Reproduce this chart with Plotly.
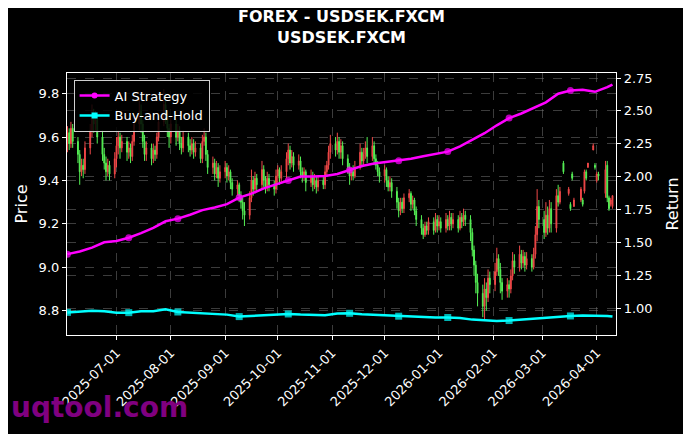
import pandas as pd
import plotly.graph_objects as go

# business days shown on the chart
days = pd.bdate_range("2025-06-03", "2026-04-10")

# daily OHLC of USDSEK (None = no candle that day)
opens = (
    [9.58, 9.62, 9.57, 9.64, 9.58, 9.52, 9.44, 9.47, 9.45, 9.55, 9.63, 9.70, 9.66, 9.68, 9.60, 9.52, 9.48, 9.44, 9.47, 9.43]
    + [9.50, 9.56, 9.60, 9.55, 9.58, 9.53, 9.55, 9.51, 9.58, 9.66, 9.72, 9.66, 9.58, 9.52, 9.55, 9.50, 9.54, 9.52, 9.60, 9.67, 9.75, 9.70, 9.64]
    + [9.60, 9.66, 9.60, 9.63, 9.57, 9.55, 9.60, 9.56, 9.54, 9.57, 9.53, 9.55, 9.50, 9.58, 9.60, 9.52, 9.46, 9.48, 9.43, 9.46, 9.41]
    + [9.44, 9.46, 9.42, 9.44, 9.39, 9.36, 9.38, 9.33, 9.30, 9.26, 9.24, 9.32, 9.40, 9.36, 9.41, 9.38, 9.45, 9.40, 9.37, 9.41, 9.38, 9.36]
    + [9.42, 9.45, 9.41, 9.44, 9.50, 9.54, 9.48, 9.51, 9.47, 9.49, 9.44, 9.42, 9.44, 9.39, 9.42, 9.38, 9.40, 9.37, 9.40, 9.38, 9.44, 9.47, 9.53]
    + [9.57, 9.54, 9.58, 9.53, 9.56, 9.50, 9.46, 9.42, 9.44, 9.42, 9.46, 9.53, 9.49, 9.52, 9.55, 9.51, 9.56, 9.50, 9.47, 9.44]
    + [9.42, 9.45, 9.40, 9.37, 9.39, 9.35, 9.30, 9.26, 9.30, 9.27, 9.32, 9.34, 9.29, 9.31, 9.26, 9.22, 9.18, 9.15, 9.19, 9.17, 9.21, 9.17, 9.22]
    + [9.19, 9.21, 9.18, 9.22, 9.19, 9.23, 9.20, 9.22, 9.18, 9.23, 9.21, 9.24, 9.22, 9.16, 9.08, 9.01, 8.93, 8.88, 8.82, 8.90, 8.86, 8.95]
    + [8.92, 8.98, 9.04, 8.99, 8.93, 8.89, 8.92, 8.90, 8.96, 9.03, 9.00, 9.06, 9.02, 9.05, 9.01, 9.04, 9.00, 9.06, 9.15, 9.28]
    + [9.22, 9.16, 9.24, 9.18, 9.27, 9.18, 9.33, 9.30, None, 9.48, 9.34, 9.29, 9.43, 9.28, None, 9.31, 9.31, 9.35, 9.44, 9.46, 9.54, 9.47]
    + [9.40, 9.43, None, 9.34, 9.47, 9.32, 9.29, 9.28]
)
highs = (
    [9.65, 9.64, 9.67, 9.66, 9.60, 9.54, 9.50, 9.50, 9.58, 9.66, 9.75, 9.73, 9.72, 9.70, 9.63, 9.55, 9.51, 9.50, 9.49, 9.53]
    + [9.60, 9.63, 9.62, 9.61, 9.60, 9.58, 9.57, 9.61, 9.70, 9.78, 9.75, 9.68, 9.61, 9.58, 9.57, 9.57, 9.56, 9.62, 9.70, 9.82, 9.80, 9.72, 9.66]
    + [9.69, 9.68, 9.66, 9.65, 9.60, 9.63, 9.62, 9.59, 9.60, 9.59, 9.58, 9.57, 9.61, 9.64, 9.62, 9.54, 9.51, 9.50, 9.49, 9.48, 9.47]
    + [9.49, 9.48, 9.47, 9.45, 9.41, 9.40, 9.39, 9.35, 9.32, 9.30, 9.35, 9.45, 9.42, 9.44, 9.43, 9.49, 9.47, 9.42, 9.44, 9.43, 9.40, 9.45]
    + [9.47, 9.46, 9.47, 9.53, 9.57, 9.56, 9.54, 9.53, 9.52, 9.51, 9.46, 9.46, 9.45, 9.45, 9.44, 9.43, 9.42, 9.42, 9.42, 9.47, 9.49, 9.56, 9.61]
    + [9.60, 9.62, 9.60, 9.59, 9.58, 9.52, 9.48, 9.46, 9.47, 9.49, 9.57, 9.55, 9.55, 9.58, 9.60, 9.60, 9.58, 9.52, 9.49, 9.46]
    + [9.47, 9.46, 9.42, 9.42, 9.41, 9.37, 9.32, 9.32, 9.32, 9.34, 9.36, 9.35, 9.33, 9.32, 9.28, 9.24, 9.20, 9.21, 9.21, 9.23, 9.23, 9.25, 9.24]
    + [9.24, 9.23, 9.25, 9.24, 9.26, 9.25, 9.25, 9.24, 9.26, 9.25, 9.27, 9.26, 9.24, 9.18, 9.10, 9.03, 8.97, 8.92, 8.95, 8.93, 8.99, 8.98]
    + [9.02, 9.09, 9.06, 9.02, 8.95, 8.95, 8.94, 8.99, 9.07, 9.06, 9.10, 9.08, 9.08, 9.07, 9.07, 9.06, 9.09, 9.19, 9.36, 9.31]
    + [9.26, 9.30, 9.28, 9.31, 9.30, 9.36, 9.38, 9.37, None, 9.49, 9.37, 9.30, 9.44, 9.32, None, 9.37, 9.32, 9.45, 9.45, 9.48, 9.57, 9.48]
    + [9.44, 9.44, None, 9.49, 9.49, 9.33, 9.32, 9.33]
)
lows = (
    [9.53, 9.54, 9.55, 9.55, 9.48, 9.38, 9.42, 9.41, 9.43, 9.52, 9.60, 9.62, 9.63, 9.57, 9.49, 9.45, 9.40, 9.42, 9.40, 9.41]
    + [9.46, 9.52, 9.50, 9.53, 9.49, 9.50, 9.48, 9.49, 9.56, 9.63, 9.62, 9.55, 9.49, 9.49, 9.47, 9.48, 9.49, 9.50, 9.58, 9.65, 9.66, 9.60, 9.55]
    + [9.57, 9.56, 9.58, 9.54, 9.52, 9.53, 9.53, 9.51, 9.52, 9.50, 9.51, 9.48, 9.48, 9.56, 9.49, 9.43, 9.43, 9.40, 9.41, 9.37, 9.39]
    + [9.41, 9.39, 9.40, 9.36, 9.33, 9.33, 9.30, 9.27, 9.22, 9.19, 9.22, 9.30, 9.33, 9.34, 9.35, 9.36, 9.37, 9.34, 9.35, 9.35, 9.33, 9.34]
    + [9.39, 9.38, 9.39, 9.41, 9.47, 9.45, 9.46, 9.44, 9.45, 9.41, 9.39, 9.40, 9.35, 9.37, 9.35, 9.36, 9.34, 9.35, 9.36, 9.36, 9.42, 9.45, 9.50]
    + [9.51, 9.52, 9.50, 9.50, 9.47, 9.43, 9.38, 9.40, 9.40, 9.41, 9.45, 9.46, 9.47, 9.50, 9.48, 9.49, 9.47, 9.45, 9.42, 9.39]
    + [9.39, 9.37, 9.35, 9.35, 9.32, 9.27, 9.23, 9.24, 9.25, 9.25, 9.30, 9.26, 9.27, 9.24, 9.19, 9.15, 9.13, 9.14, 9.15, 9.15, 9.15, 9.16, 9.16]
    + [9.17, 9.16, 9.16, 9.17, 9.17, 9.17, 9.18, 9.16, 9.17, 9.18, 9.19, 9.19, 9.12, 9.05, 8.96, 8.88, 8.82, 8.77, 8.76, 8.80, 8.84, 8.88]
    + [8.89, 8.96, 8.96, 8.88, 8.85, 8.86, 8.86, 8.88, 8.94, 8.97, 8.98, 8.99, 9.00, 8.98, 8.99, 8.98, 8.99, 9.04, 9.12, 9.18]
    + [9.13, 9.14, 9.15, 9.16, 9.16, 9.16, 9.28, 9.29, None, 9.43, 9.33, 9.26, 9.40, 9.28, None, 9.30, 9.28, 9.34, 9.40, 9.46, 9.54, 9.45]
    + [9.39, 9.40, None, 9.32, 9.30, 9.26, 9.28, 9.27]
)
closes = (
    [9.62, 9.57, 9.64, 9.58, 9.52, 9.44, 9.47, 9.45, 9.55, 9.63, 9.70, 9.66, 9.68, 9.60, 9.52, 9.48, 9.44, 9.47, 9.43, 9.50]
    + [9.56, 9.60, 9.55, 9.58, 9.53, 9.55, 9.51, 9.58, 9.66, 9.72, 9.66, 9.58, 9.52, 9.55, 9.50, 9.54, 9.52, 9.60, 9.67, 9.75, 9.70, 9.64, 9.60]
    + [9.66, 9.60, 9.63, 9.57, 9.55, 9.60, 9.56, 9.54, 9.57, 9.53, 9.55, 9.50, 9.58, 9.60, 9.52, 9.46, 9.48, 9.43, 9.46, 9.41, 9.44]
    + [9.46, 9.42, 9.44, 9.39, 9.36, 9.38, 9.33, 9.30, 9.26, 9.24, 9.32, 9.40, 9.36, 9.41, 9.38, 9.45, 9.40, 9.37, 9.41, 9.38, 9.36, 9.42]
    + [9.45, 9.41, 9.44, 9.50, 9.54, 9.48, 9.51, 9.47, 9.49, 9.44, 9.42, 9.44, 9.39, 9.42, 9.38, 9.40, 9.37, 9.40, 9.38, 9.44, 9.47, 9.53, 9.57]
    + [9.54, 9.58, 9.53, 9.56, 9.50, 9.46, 9.42, 9.44, 9.42, 9.46, 9.53, 9.49, 9.52, 9.55, 9.51, 9.56, 9.50, 9.47, 9.44, 9.42]
    + [9.45, 9.40, 9.37, 9.39, 9.35, 9.30, 9.26, 9.30, 9.27, 9.32, 9.34, 9.29, 9.31, 9.26, 9.22, 9.18, 9.15, 9.19, 9.17, 9.21, 9.17, 9.22, 9.19]
    + [9.21, 9.18, 9.22, 9.19, 9.23, 9.20, 9.22, 9.18, 9.23, 9.21, 9.24, 9.22, 9.16, 9.08, 9.01, 8.93, 8.88, 8.82, 8.90, 8.86, 8.95, 8.92]
    + [8.98, 9.04, 8.99, 8.93, 8.89, 8.92, 8.90, 8.96, 9.03, 9.00, 9.06, 9.02, 9.05, 9.01, 9.04, 9.00, 9.06, 9.15, 9.28, 9.22]
    + [9.16, 9.24, 9.18, 9.27, 9.20, 9.33, 9.30, 9.35, None, 9.44, 9.36, 9.27, 9.41, 9.31, None, 9.36, 9.29, 9.44, 9.41, 9.48, 9.56, 9.46]
    + [9.43, 9.42, None, 9.45, 9.32, 9.27, 9.31, 9.33]
)

# cumulative return curves, sampled every 5th business day (plus the last day)
line_days = list(days[::5]) + [days[-1]]
ai_return = [1.41, 1.43, 1.46, 1.50, 1.51, 1.535, 1.57, 1.61, 1.66, 1.68,
             1.71, 1.745, 1.765, 1.79, 1.84, 1.87, 1.91, 1.94, 1.97, 2.00,
             2.00, 2.005, 2.02, 2.05, 2.08, 2.10, 2.11, 2.12, 2.135, 2.155,
             2.17, 2.19, 2.23, 2.28, 2.33, 2.39, 2.445, 2.48, 2.52, 2.565,
             2.63, 2.655, 2.66, 2.645, 2.68, 2.70]
bh_return = [0.967, 0.975, 0.98, 0.975, 0.965, 0.965, 0.975, 0.975, 0.99, 0.97,
             0.965, 0.965, 0.955, 0.95, 0.935, 0.94, 0.945, 0.95, 0.955, 0.95,
             0.948, 0.945, 0.958, 0.96, 0.952, 0.948, 0.945, 0.938, 0.932, 0.93,
             0.928, 0.928, 0.925, 0.912, 0.905, 0.902, 0.905, 0.912, 0.918, 0.93,
             0.936, 0.94, 0.943, 0.943, 0.94, 0.935]

# roughly monthly marker spots along the lines
marker_at = [0, 5, 9, 14, 18, 23, 27, 31, 36, 41]
msize = [7 if i in marker_at else 0 for i in range(len(line_days))]

grid = "rgba(110,110,110,0.55)"

fig = go.Figure()
fig.add_trace(go.Candlestick(
    x=days, open=opens, high=highs, low=lows, close=closes,
    increasing=dict(line=dict(color="#f04848", width=1), fillcolor="#f04848"),
    decreasing=dict(line=dict(color="#55f055", width=1), fillcolor="#55f055"),
    showlegend=False, name="USDSEK.FXCM"))

for name, vals, color, symbol in [("AI Strategy", ai_return, "#ff00ff", "circle"),
                                  ("Buy-and-Hold", bh_return, "#00ffff", "square")]:
    fig.add_trace(go.Scatter(
        x=line_days, y=vals, name=name, mode="lines+markers", yaxis="y2",
        showlegend=False, legendgroup=name,
        line=dict(color=color, width=2.5),
        marker=dict(size=msize, symbol=symbol, color=color, line=dict(width=0))))
    # legend-only entry (a varying marker size hides the legend symbol)
    fig.add_trace(go.Scatter(
        x=[None], y=[None], name=name, mode="lines+markers", yaxis="y2",
        legendgroup=name, line=dict(color=color, width=2.5),
        marker=dict(size=6, symbol=symbol, color=color)))

# the page puts the figure 8px in from the top-left corner
fig.update_layout(
    width=683, height=426,
    margin=dict(l=55, r=70, t=65, b=99),
    paper_bgcolor="black", plot_bgcolor="black",
    font=dict(family="DejaVu Sans", color="white", size=13),
    title=dict(text="<b>FOREX - USDSEK.FXCM<br>USDSEK.FXCM</b>", x=0.5, xref="paper",
               xanchor="center", y=0.966, yref="container", yanchor="top",
               font=dict(size=16, color="white")),
    xaxis=dict(type="date", range=["2025-06-02 18:00", "2026-04-12"],
               tick0="2025-07-01", dtick="M1", tickformat="%Y-%m-%d", tickangle=-45,
               showgrid=True, gridcolor=grid, griddash="dash", gridwidth=0.8,
               showline=True, linecolor="white", linewidth=1.2, mirror=True,
               ticks="outside", ticklen=4, tickcolor="white",
               rangeslider=dict(visible=False)),
    yaxis=dict(range=[8.688, 9.895], tick0=8.8, dtick=0.2, tickformat=".1f",
               title=dict(text="Price", standoff=7),
               showgrid=True, gridcolor=grid, griddash="dash", gridwidth=0.8,
               showline=True, linecolor="white", linewidth=1.2, mirror=True,
               ticks="outside", ticklen=4, tickcolor="white", zeroline=False),
    yaxis2=dict(overlaying="y", side="right", range=[0.795, 2.788], tick0=1.0, dtick=0.25,
                tickformat=".2f", title=dict(text="Return", standoff=15),
                showgrid=True, gridcolor=grid, griddash="dash", gridwidth=0.8,
                showline=True, linecolor="white", linewidth=1.2,
                ticks="outside", ticklen=4, tickcolor="white", zeroline=False),
    legend=dict(x=0.012, y=0.975, xanchor="left", yanchor="top", tracegroupgap=0,
                bgcolor="rgba(0,0,0,0.85)", bordercolor="#d0d0d0", borderwidth=1,
                font=dict(size=13, color="white")),
    annotations=[dict(text="<b>uqtool.com</b>", xref="paper", yref="paper",
                      x=-0.105, y=-0.275, xanchor="left", yanchor="middle",
                      showarrow=False, font=dict(size=28, color="#800080"))],
)

fig.write_html("out.html")
